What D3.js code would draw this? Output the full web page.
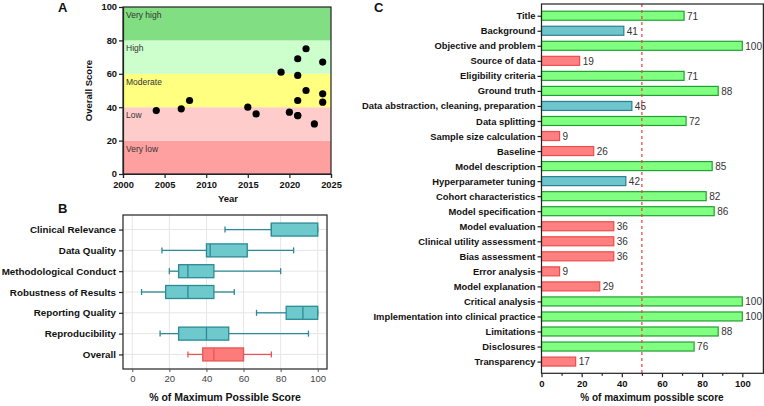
<!DOCTYPE html>
<html>
<head>
<meta charset="utf-8">
<script src="https://cdn.jsdelivr.net/npm/d3@7"></script>
<style>
  body { margin: 0; background: #fff; }
  svg { font-family: "Liberation Sans", Arial, sans-serif; }
</style>
</head>
<body>
<svg id="chart" width="764" height="406"></svg>
<script>
// ---- data: panel A (year vs overall score)
const studyYears = [2004, 2007, 2008, 2015, 2016, 2019, 2020, 2021, 2021, 2021, 2021, 2022, 2022, 2023, 2024, 2024, 2024, 2021];
const studyScores = [38, 39, 44, 40, 36, 61, 37, 69, 59, 44, 35, 75, 50, 30, 67, 48, 43, 35];
const bandLabels = ["Very low", "Low", "Moderate", "High", "Very high"];
const bandEdges = [0, 20, 40, 60, 80, 100];
const bandColors = ["#ffa0a0", "#ffcccc", "#ffff80", "#ccffcc", "#82de82"];

// ---- data: panel B (box plots)
const domains = ["Clinical Relevance", "Data Quality", "Methodological Conduct", "Robustness of Results",
  "Reporting Quality", "Reproducibility", "Overall"];
const boxMin = [50, 16, 20, 5, 67, 15, 30];
const boxQ1 = [75, 40, 25, 18, 83, 25, 38];
const boxMedian = [75, 42, 30, 30, 92, 40, 44];
const boxQ3 = [100, 62, 44, 44, 100, 52, 60];
const boxMax = [100, 87, 80, 55, 100, 95, 75];

// ---- data: panel C (item scores)
const items = ["Title", "Background", "Objective and problem", "Source of data", "Eligibility criteria",
  "Ground truth", "Data abstraction, cleaning, preparation", "Data splitting", "Sample size calculation",
  "Baseline", "Model description", "Hyperparameter tuning", "Cohort characteristics", "Model specification",
  "Model evaluation", "Clinical utility assessment", "Bias assessment", "Error analysis", "Model explanation",
  "Critical analysis", "Implementation into clinical practice", "Limitations", "Disclosures", "Transparency"];
const itemScores = [71, 41, 100, 19, 71, 88, 45, 72, 9, 26, 85, 42, 82, 86, 36, 36, 36, 9, 29, 100, 100, 88, 76, 17];

const svg = d3.select("#chart");

function panelLetter(x, y, t) {
  svg.append("text").attr("x", x).attr("y", y).text(t)
    .style("font-size", "13px").style("font-weight", "bold").attr("fill", "#111");
}

// ================= Panel A =================
{
  const x = d3.scaleLinear().domain([2000, 2025]).range([123, 331]);
  const y = d3.scaleLinear().domain([0, 100]).range([174, 7]);
  const g = svg.append("g");

  bandLabels.forEach((lab, i) => {
    g.append("rect")
      .attr("x", x(2000)).attr("y", y(bandEdges[i + 1]))
      .attr("width", x(2025) - x(2000)).attr("height", y(bandEdges[i]) - y(bandEdges[i + 1]))
      .attr("fill", bandColors[i]);
    g.append("text").attr("x", x(2000) + 3).attr("y", y(bandEdges[i + 1]) + 11)
      .text(lab).style("font-size", "8.5px").attr("fill", "#333");
  });

  g.selectAll("circle").data(studyYears).enter().append("circle")
    .attr("cx", d => x(d)).attr("cy", (d, i) => y(studyScores[i])).attr("r", 3.6).attr("fill", "#000");

  g.append("rect").attr("x", x(2000)).attr("y", y(100))
    .attr("width", x(2025) - x(2000)).attr("height", y(0) - y(100))
    .attr("fill", "none").attr("stroke", "#222").attr("stroke-width", 1.2);

  const ya = g.append("g").attr("transform", `translate(${x(2000)},0)`)
    .call(d3.axisLeft(y).tickValues([0, 20, 40, 60, 80, 100]).tickSize(4).tickPadding(2));
  const xa = g.append("g").attr("transform", `translate(0,${y(0)})`)
    .call(d3.axisBottom(x).tickValues([2000, 2005, 2010, 2015, 2020, 2025])
      .tickFormat(d3.format("d")).tickSize(4).tickPadding(3));
  [ya, xa].forEach(a => {
    a.select(".domain").attr("stroke", "#222").attr("stroke-width", 1.2);
    a.selectAll(".tick line").attr("stroke", "#222").attr("stroke-width", 1.2);
    a.selectAll("text").style("font-size", "9.3px").style("font-weight", "bold").attr("fill", "#111")
      .style("font-family", "Liberation Sans, Arial, sans-serif");
  });

  g.append("text").attr("x", 228).attr("y", 202).attr("text-anchor", "middle")
    .text("Year").style("font-size", "9.5px").style("font-weight", "bold").attr("fill", "#111");
  g.append("text").attr("transform", `translate(92,${(y(0) + y(100)) / 2}) rotate(-90)`)
    .attr("text-anchor", "middle").text("Overall Score")
    .style("font-size", "9.5px").style("font-weight", "bold").attr("fill", "#111");

  panelLetter(58, 12, "A");
}

// ================= Panel B =================
{
  const left = 123, right = 327, top = 215, bottom = 369;
  const x = d3.scaleLinear().domain([-5, 105]).range([left, right]);
  const y = d3.scalePoint().domain(domains).range([top, bottom]).padding(0.7);
  const g = svg.append("g");
  const boxH = 13;

  g.selectAll(".vgrid").data([0, 20, 40, 60, 80, 100]).enter().append("line")
    .attr("x1", d => x(d)).attr("x2", d => x(d)).attr("y1", top).attr("y2", bottom)
    .attr("stroke", "#e6e6e6").attr("stroke-width", 1);
  g.selectAll(".hgrid").data(domains).enter().append("line")
    .attr("x1", left).attr("x2", right).attr("y1", d => y(d)).attr("y2", d => y(d))
    .attr("stroke", "#e6e6e6").attr("stroke-width", 1);

  domains.forEach((d, i) => {
    const isOverall = d === "Overall";
    const fill = isOverall ? "#fc7b7b" : "#6ec9cc";
    const stroke = isOverall ? "#e85555" : "#2b8a96";
    const cy = y(d);
    g.append("line").attr("x1", x(boxMin[i])).attr("x2", x(boxQ1[i])).attr("y1", cy).attr("y2", cy)
      .attr("stroke", stroke).attr("stroke-width", 1.3);
    g.append("line").attr("x1", x(boxQ3[i])).attr("x2", x(boxMax[i])).attr("y1", cy).attr("y2", cy)
      .attr("stroke", stroke).attr("stroke-width", 1.3);
    [boxMin[i], boxMax[i]].forEach(v => {
      g.append("line").attr("x1", x(v)).attr("x2", x(v)).attr("y1", cy - 3).attr("y2", cy + 3)
        .attr("stroke", stroke).attr("stroke-width", 1.3);
    });
    g.append("rect").attr("x", x(boxQ1[i])).attr("y", cy - boxH / 2)
      .attr("width", x(boxQ3[i]) - x(boxQ1[i])).attr("height", boxH)
      .attr("fill", fill).attr("stroke", stroke).attr("stroke-width", 1.3);
    g.append("line").attr("x1", x(boxMedian[i])).attr("x2", x(boxMedian[i]))
      .attr("y1", cy - boxH / 2).attr("y2", cy + boxH / 2)
      .attr("stroke", stroke).attr("stroke-width", 1.3);
  });

  g.append("rect").attr("x", left).attr("y", top).attr("width", right - left).attr("height", bottom - top)
    .attr("fill", "none").attr("stroke", "#222").attr("stroke-width", 1.2);

  const ya = g.append("g").attr("transform", `translate(${left},0)`)
    .call(d3.axisLeft(y).tickSize(4).tickPadding(3));
  ya.select(".domain").remove();
  ya.selectAll(".tick line").attr("stroke", "#222").attr("stroke-width", 1.2);
  ya.selectAll("text").style("font-size", "9.8px").style("font-weight", "bold").attr("fill", "#111")
    .style("font-family", "Liberation Sans, Arial, sans-serif");

  const xa = g.append("g").attr("transform", `translate(0,${bottom})`)
    .call(d3.axisBottom(x).tickValues([0, 20, 40, 60, 80, 100]).tickSize(3).tickPadding(3));
  xa.select(".domain").remove();
  xa.selectAll(".tick line").attr("stroke", "#555");
  xa.selectAll("text").style("font-size", "9.5px").attr("fill", "#444")
    .style("font-family", "Liberation Sans, Arial, sans-serif");

  g.append("text").attr("x", (left + right) / 2).attr("y", 401).attr("text-anchor", "middle")
    .text("% of Maximum Possible Score").style("font-size", "10.5px").style("font-weight", "bold").attr("fill", "#111");

  panelLetter(58, 213, "B");
}

// ================= Panel C =================
{
  const left = 541.5, top = 4, bottom = 373.3;
  const x = d3.scaleLinear().domain([0, 100]).range([left, 742.3]);
  const right = x(110.5);
  const y = d3.scalePoint().domain(items).range([top, bottom]).padding(0.78);
  const g = svg.append("g");
  const barH = 9;
  const fillOf = v => v >= 50 ? "#80ff80" : v >= 40 ? "#6ec6cc" : "#ff8080";
  const strokeOf = v => v >= 50 ? "#21a034" : v >= 40 ? "#2b7f8f" : "#ee4c4c";

  g.selectAll(".bar").data(items).enter().append("rect")
    .attr("x", x(0)).attr("y", d => y(d) - barH / 2)
    .attr("width", (d, i) => x(itemScores[i]) - x(0)).attr("height", barH)
    .attr("fill", (d, i) => fillOf(itemScores[i])).attr("stroke", (d, i) => strokeOf(itemScores[i]))
    .attr("stroke-width", 1.2);

  g.selectAll(".val").data(items).enter().append("text")
    .attr("x", (d, i) => x(itemScores[i]) + 3).attr("y", d => y(d) + 3.8)
    .text((d, i) => itemScores[i]).style("font-size", "10px").attr("fill", "#333");

  g.append("line").attr("x1", x(50)).attr("x2", x(50)).attr("y1", top).attr("y2", bottom)
    .attr("stroke", "#f03c3c").attr("stroke-width", 1.2).attr("stroke-dasharray", "3,3");

  g.append("rect").attr("x", left).attr("y", top).attr("width", right - left).attr("height", bottom - top)
    .attr("fill", "none").attr("stroke", "#222").attr("stroke-width", 1.2);

  const ya = g.append("g").attr("transform", `translate(${left},0)`)
    .call(d3.axisLeft(y).tickSize(4).tickPadding(2));
  ya.select(".domain").remove();
  ya.selectAll(".tick line").attr("stroke", "#222").attr("stroke-width", 1.2);
  ya.selectAll("text").style("font-size", "9.4px").style("font-weight", "bold").attr("fill", "#111")
    .style("font-family", "Liberation Sans, Arial, sans-serif");

  const xa = g.append("g").attr("transform", `translate(0,${bottom})`)
    .call(d3.axisBottom(x).tickValues([0, 20, 40, 60, 80, 100]).tickSize(4).tickPadding(3));
  xa.select(".domain").remove();
  xa.selectAll(".tick line").attr("stroke", "#222").attr("stroke-width", 1.2);
  xa.selectAll("text").style("font-size", "9.5px").style("font-weight", "bold").attr("fill", "#111")
    .style("font-family", "Liberation Sans, Arial, sans-serif");
  g.append("g").attr("transform", `translate(0,${bottom})`)
    .call(d3.axisBottom(x).tickValues([10, 30, 50, 70, 90]).tickSize(2.5).tickFormat(""))
    .call(a => a.select(".domain").remove())
    .selectAll(".tick line").attr("stroke", "#222").attr("stroke-width", 1.2);

  g.append("text").attr("x", 652).attr("y", 401).attr("text-anchor", "middle")
    .text("% of maximum possible score").style("font-size", "10px").style("font-weight", "bold").attr("fill", "#111");

  panelLetter(374, 12, "C");
}
</script>
</body>
</html>
